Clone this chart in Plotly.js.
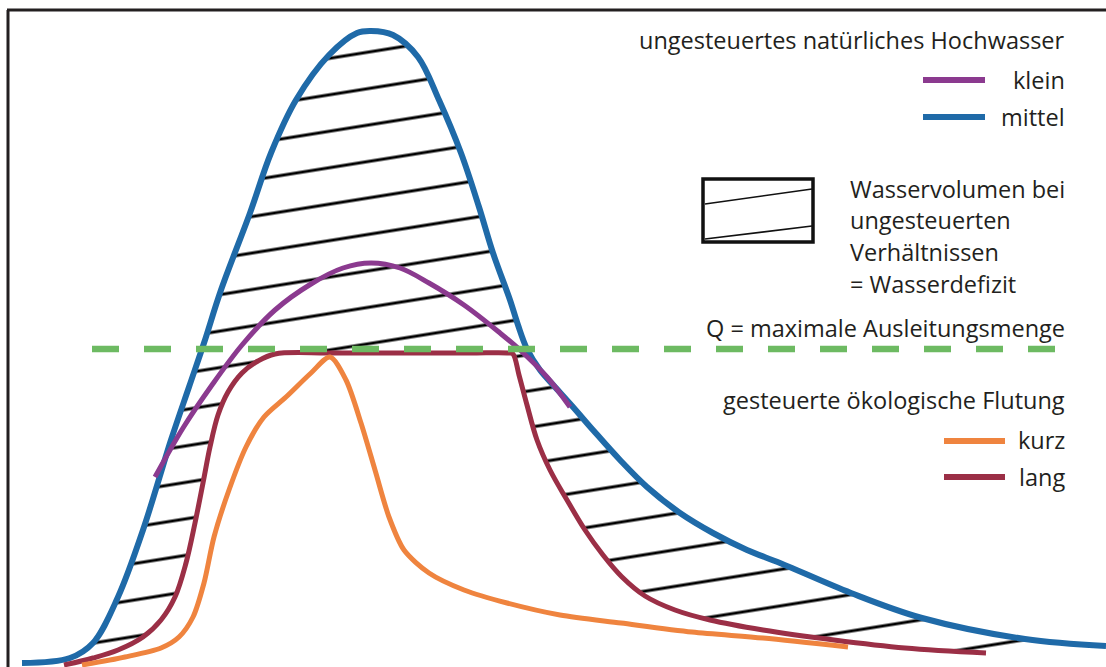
<!DOCTYPE html>
<html><head><meta charset="utf-8">
<script src="https://cdn.plot.ly/plotly-3.0.1.min.js"></script>
<style>html,body{margin:0;padding:0;background:#fff;}#chart{width:1106px;height:667px;}</style>
</head><body><div id="chart"></div>
<script>
// ---- data (time in arbitrary units, discharge in arbitrary units) ----
const timeMittel = [22, 70, 93, 118, 143, 171, 189, 204, 221, 250, 271, 296, 329, 357, 371, 393, 418, 439, 461, 479, 493, 510, 518, 527, 540, 555, 573, 593, 620, 647, 680, 713, 747, 780, 851, 922, 1025, 1106];
const qMittel    = [4, 9, 24, 70, 137, 227, 280, 324, 377, 454, 514, 567, 612, 634, 636, 632, 610, 567, 514, 460, 414, 367, 342, 318, 297, 280, 260, 237, 207, 180, 154, 134, 117, 104, 74, 49, 28, 21];

const timeKlein = [155, 183, 212, 242, 275, 311, 343, 371, 400, 429, 464, 500, 520, 547, 570];
const qKlein    = [190, 239, 282, 322, 357, 383, 399, 404, 399, 384, 362, 334, 317, 290, 260];

const timeLang = [64, 93, 118, 143, 161, 175, 186, 195, 203, 210, 218, 228, 242, 258, 275, 330, 400, 470, 509, 513, 519, 527, 537, 550, 567, 585, 603, 622, 645, 675, 710, 763, 834, 905, 986];
const qLang    = [2, 9, 17, 30, 47, 70, 104, 144, 184, 220, 252, 275, 294, 306, 313, 314, 314, 314, 314, 313, 292, 262, 227, 197, 167, 137, 112, 90, 71, 57, 47, 37, 27, 19, 14];

const timeKurz = [82, 125, 161, 179, 193, 204, 214, 229, 246, 264, 286, 311, 330, 346, 361, 375, 389, 404, 429, 464, 507, 560, 621, 692, 763, 848];
const qKurz    = [2, 10, 19, 30, 50, 84, 130, 177, 220, 250, 270, 294, 310, 287, 244, 197, 150, 117, 94, 77, 64, 52, 44, 35, 29, 20];

const qMax = 318;                 // maximale Ausleitungsmenge
const qMaxTime = [92, 1066];

const labelTitleNatural = 'ungesteuertes natürliches Hochwasser';
const labelKlein = 'klein';
const labelMittel = 'mittel';
const labelDeficit = ['Wasservolumen bei', 'ungesteuerten', 'Verhältnissen', '= Wasserdefizit'];
const labelQ = 'Q = maximale Ausleitungsmenge';
const labelTitleControlled = 'gesteuerte ökologische Flutung';
const labelKurz = 'kurz';
const labelLang = 'lang';

// ---- styles ----
const C = {
  blue: '#1f6aa8', purple: '#8b3a8f', red: '#9b2f46', orange: '#ef843f',
  green: '#6dba62', text: '#231f20', frame: '#231f20'
};
const W = 1106, H = 667;
const px = x => x / W;
const py = y => 1 - y / H;

const traces = [
  // invisible lower boundary for hatched deficit area
  {x: timeLang, y: qLang, mode: 'lines', line: {width: 0, shape: 'spline', color: 'rgba(0,0,0,0)'}, hoverinfo: 'skip'},
  {x: timeMittel, y: qMittel, mode: 'lines', fill: 'tonexty', fillcolor: 'rgba(0,0,0,0)',
   fillpattern: {shape: '-', size: 36, solidity: 0.09, fgcolor: '#000', fgopacity: 1, bgcolor: 'rgba(0,0,0,0)', fillmode: 'overlay'},
   line: {width: 0, shape: 'spline', color: 'rgba(0,0,0,0)'}, hoverinfo: 'skip'},
  {x: timeMittel, y: qMittel, mode: 'lines', name: labelMittel, line: {color: C.blue, width: 6, shape: 'spline'}},
  {x: timeLang, y: qLang, mode: 'lines', name: labelLang, line: {color: C.red, width: 5, shape: 'spline'}},
  {x: timeKurz, y: qKurz, mode: 'lines', name: labelKurz, line: {color: C.orange, width: 5, shape: 'spline', smoothing: 0.8}},
  {x: timeKlein, y: qKlein, mode: 'lines', name: labelKlein, line: {color: C.purple, width: 5, shape: 'spline'}},
  {x: qMaxTime, y: [qMax, qMax], mode: 'lines', name: 'Q', line: {color: C.green, width: 6.5, dash: '27px,25px'}}
];

const font = {family: '"Open Sans", sans-serif', size: 23.5, color: C.text};
function ann(text, x, y, anchor) {
  return {text: text, x: px(x), y: py(y), xref: 'paper', yref: 'paper', xanchor: anchor, yanchor: 'middle', showarrow: false, font: font};
}
const annotations = [
  ann(labelTitleNatural, 1067, 40, 'right'),
  ann(labelKlein, 1067, 80, 'right'),
  ann(labelMittel, 1067, 117, 'right'),
  ann(labelDeficit[0], 848, 189, 'left'),
  ann(labelDeficit[1], 848, 220, 'left'),
  ann(labelDeficit[2], 848, 252, 'left'),
  ann(labelDeficit[3], 848, 284, 'left'),
  ann(labelQ, 1067, 328, 'right'),
  ann(labelTitleControlled, 1067, 400, 'right'),
  ann(labelKurz, 1067, 440, 'right'),
  ann(labelLang, 1067, 477, 'right')
];

function seg(x0, y0, x1, y1, color, width) {
  return {type: 'line', xref: 'paper', yref: 'paper', x0: px(x0), y0: py(y0), x1: px(x1), y1: py(y1), line: {color: color, width: width}};
}
const shapes = [
  // frame (left and top)
  seg(8, 668, 8, 10, C.frame, 3),
  seg(7, 10, 1106, 10, C.frame, 3),
  // legend line samples
  seg(923, 80, 985, 80, C.purple, 6),
  seg(923, 117, 985, 117, C.blue, 6),
  seg(944, 441, 1005, 441, C.orange, 6),
  seg(944, 477, 1005, 477, C.red, 6),
  // hatched legend box
  {type: 'rect', xref: 'paper', yref: 'paper', x0: px(703), y0: py(179), x1: px(813), y1: py(242), line: {color: '#111', width: 3.5}},
  seg(705, 204, 812, 189, '#111', 1.6),
  seg(705, 239, 812, 226, '#111', 1.6)
];

const layout = {
  width: W, height: H, margin: {l: 0, r: 0, t: 0, b: 0, pad: 0},
  paper_bgcolor: '#fff', plot_bgcolor: '#fff', showlegend: false,
  xaxis: {range: [0, W], visible: false, fixedrange: true},
  yaxis: {range: [0, H], visible: false, fixedrange: true},
  annotations: annotations, shapes: shapes
};

Plotly.newPlot('chart', traces, layout, {staticPlot: true, displayModeBar: false}).then(function () {
  // tilt the hatch pattern slightly, as in the original drawing
  document.querySelectorAll('pattern').forEach(function (p) {
    p.setAttribute('patternTransform', 'translate(0,-16.5) rotate(-9.1)');
    p.querySelectorAll('path').forEach(function (el) {
      el.setAttribute('stroke', '#000');
      el.setAttribute('opacity', '1');
      el.setAttribute('stroke-width', '3');
      el.style.strokeWidth = '3px';
      el.style.opacity = '1';
    });
  });
});
</script>
</body></html>
